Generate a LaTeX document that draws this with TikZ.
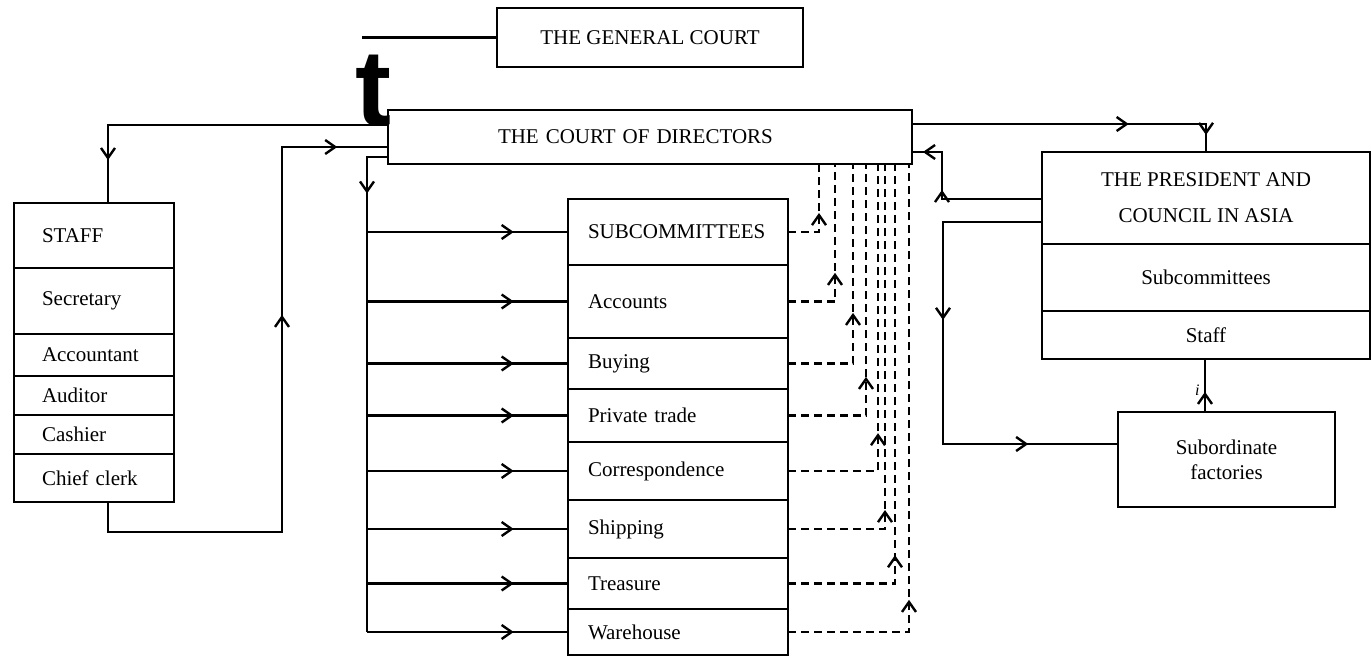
\documentclass[tikz,border=0pt]{standalone}
\usepackage{fontspec}
\setmainfont{Liberation Serif}
\newfontfamily\glyphfont{Liberation Sans}
\usetikzlibrary{arrows.meta,decorations.markings}

\tikzset{
  box/.style={draw, line width=2.4pt, inner sep=0pt, outer sep=0pt},
  cbox/.style={box, anchor=north west, align=center},
  srow/.style={box, anchor=north west, text width=104pt, inner xsep=28pt, align=left, minimum height=#1},
  crow/.style={box, anchor=north west, text width=180pt, inner xsep=20pt, align=left, minimum height=#1},
  midarr/.style={postaction={decorate, decoration={markings, mark=at position #1 with {\arrow{>}}}}},
  link/.style={line width=2.4pt},
  dlink/.style={line width=2.4pt, dash pattern=on 8pt off 5pt},
  >={Straight Barb[length=10pt,width=14pt]}
}

\begin{document}
\begin{tikzpicture}[x=1pt, y=-1pt, font=\fontsize{21}{25}\selectfont]
  \useasboundingbox (0,0) rectangle (1371,656);

  \node[cbox, minimum width=306pt, minimum height=59pt] (gc) at (497,8) {THE GENERAL COURT};
  \node[box, anchor=north west, align=left, text width=304pt, inner xsep=110pt, minimum height=54pt] (cod) at (388,110) {THE COURT OF DIRECTORS};
  \node[anchor=base west, inner sep=0pt, font=\glyphfont\bfseries\fontsize{108}{108}\selectfont] (t) at (355,125) {t};

  \node[srow=65pt] (staff) at (14,203) {STAFF};
  \node[srow=66pt] (sec) at (14,268) {Secretary};
  \node[srow=42pt] (acc) at (14,334) {Accountant};
  \node[srow=39pt] (aud) at (14,376) {Auditor};
  \node[srow=39pt] (cash) at (14,415) {Cashier};
  \node[srow=48pt] (chief) at (14,454) {Chief clerk};

  \node[crow=66pt] (subc) at (568,199) {SUBCOMMITTEES};
  \node[crow=73pt] (acct) at (568,265) {Accounts};
  \node[crow=51pt] (buy) at (568,338) {Buying};
  \node[crow=53pt] (priv) at (568,389) {Private trade};
  \node[crow=58pt] (corr) at (568,442) {Correspondence};
  \node[crow=58pt] (ship) at (568,500) {Shipping};
  \node[crow=51pt] (treas) at (568,558) {Treasure};
  \node[crow=46pt] (ware) at (568,609) {Warehouse};

  \node[cbox, minimum width=328pt, minimum height=92pt, font=\fontsize{21}{36}\selectfont] (pres) at (1042,152) {THE PRESIDENT AND\\COUNCIL IN ASIA};
  \node[cbox, minimum width=328pt, minimum height=67pt] (psub) at (1042,244) {Subcommittees};
  \node[cbox, minimum width=328pt, minimum height=48pt] (pstaff) at (1042,311) {Staff};
  \node[cbox, minimum width=217pt, minimum height=95pt] (fact) at (1118,412) {Subordinate\\factories};

  \coordinate (gcl) at (362,37.5);
  \coordinate (bus) at (367,0);
  \coordinate (ft) at ([xshift=87pt]fact.north west);

  \draw[link] (gc.west) -- (gcl);
  \draw[link, midarr=0.88] ([yshift=-15pt]cod.north west) -| ([xshift=94pt]staff.north west);
  \draw[link, midarr=0.606, midarr=0.927] ([xshift=94pt]chief.south west) -- ++(0,30) -- ++(174,0) |- ([yshift=-37pt]cod.north west);
  \draw[link, midarr=0.116] ([yshift=-47pt]cod.north west) -| (bus |- ware.west);
  \foreach \r in {subc,acct,buy,priv,corr,ship,treas,ware}
    \draw[link, midarr=0.73] (bus |- \r.west) -- (\r.west);
  \foreach \r/\dx/\p in {subc/431/0.505, acct/447/0.41, buy/465/0.437, priv/478/0.354,
                         corr/490/0.322, ship/497/0.251, treas/507/0.257, ware/521/0.26}
    \draw[dlink, midarr=\p] (\r.east) -| ([xshift=\dx pt]cod.south west);

  \draw[link, midarr=0.673, midarr=0.947] ([yshift=-14pt]cod.north east) -| (pres.north);
  \draw[link, midarr=0.616, midarr=0.938] ([yshift=-47pt]pres.north west) -| ([xshift=30pt,yshift=-42pt]cod.north east) -- ([yshift=-42pt]cod.north east);
  \draw[link, midarr=0.397, midarr=0.819] ([yshift=-70pt]pres.north west) -- ++(-99,0) |- ([yshift=-32pt]fact.north west);
  \draw[link, midarr=0.38] (ft) -- (ft |- pstaff.south)
    node[pos=0.42, left=1pt, font=\itshape\fontsize{16}{16}\selectfont] (i) {i};
\end{tikzpicture}
\end{document}
